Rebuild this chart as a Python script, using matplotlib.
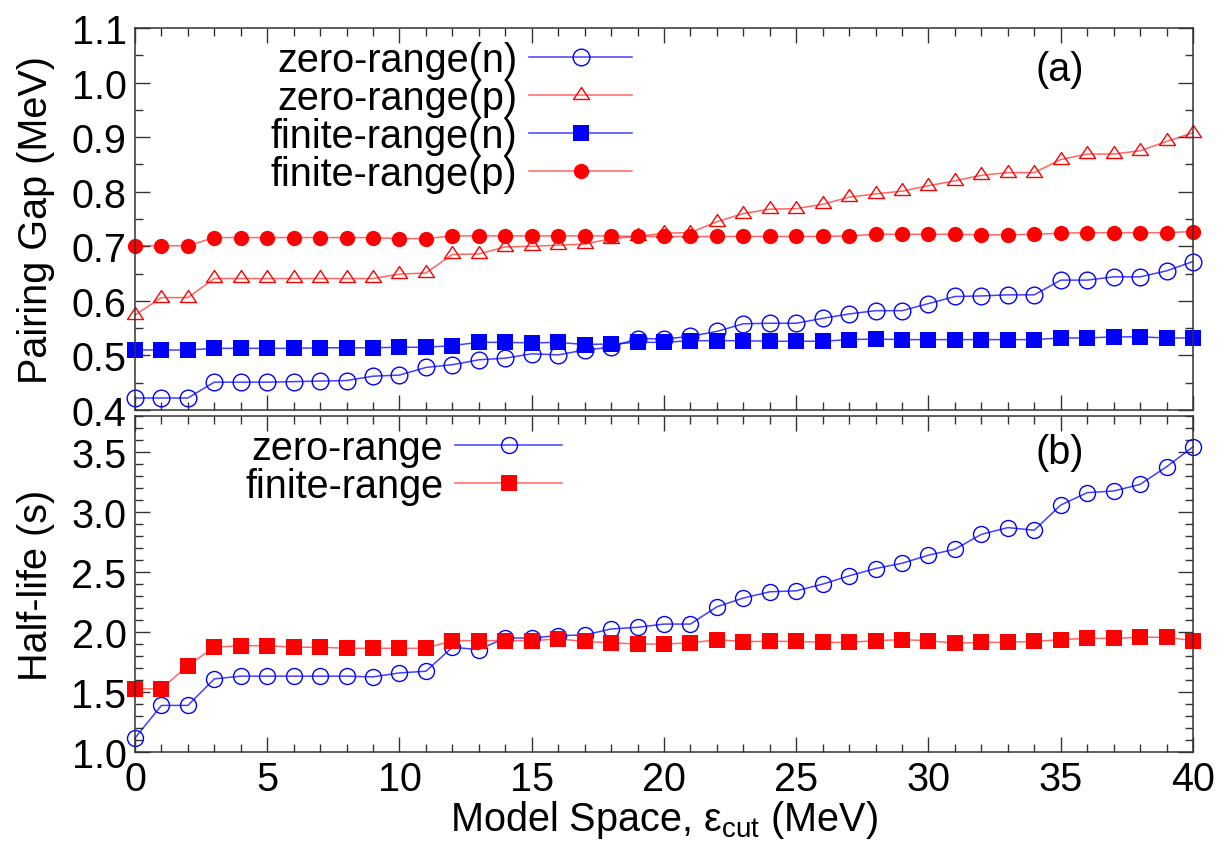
import numpy as np
import matplotlib
matplotlib.use("Agg")
import matplotlib.pyplot as plt
from matplotlib.ticker import MultipleLocator, FormatStrFormatter
from matplotlib.path import Path

plt.rcParams['font.family'] = ['Liberation Sans', 'DejaVu Sans']
plt.rcParams['mathtext.fontset'] = 'custom'
plt.rcParams['mathtext.rm'] = 'Liberation Sans'
plt.rcParams['mathtext.it'] = 'Liberation Sans:italic'

# Model-space cutoff (MeV)
e_cut = np.arange(41)

# (a) pairing gaps (MeV)
gap_zero_n = [0.422, 0.422, 0.422, 0.451, 0.451, 0.451, 0.452, 0.453, 0.454, 0.462,
              0.464, 0.478, 0.483, 0.492, 0.495, 0.503, 0.501, 0.510, 0.515, 0.531,
              0.530, 0.535, 0.544, 0.558, 0.559, 0.559, 0.568, 0.576, 0.582, 0.582,
              0.595, 0.608, 0.609, 0.611, 0.611, 0.638, 0.638, 0.644, 0.644, 0.655,
              0.672]
gap_zero_p = [0.574, 0.606, 0.606, 0.641, 0.641, 0.641, 0.641, 0.641, 0.641, 0.641,
              0.649, 0.651, 0.685, 0.686, 0.699, 0.700, 0.702, 0.704, 0.714, 0.718,
              0.724, 0.725, 0.745, 0.760, 0.768, 0.769, 0.777, 0.790, 0.796, 0.801,
              0.811, 0.820, 0.830, 0.835, 0.835, 0.859, 0.869, 0.869, 0.875, 0.892,
              0.908]
gap_fin_n = [0.510, 0.510, 0.510, 0.513, 0.513, 0.513, 0.513, 0.514, 0.514, 0.514,
             0.515, 0.515, 0.518, 0.524, 0.524, 0.523, 0.524, 0.520, 0.521, 0.524,
             0.524, 0.527, 0.527, 0.527, 0.526, 0.526, 0.526, 0.529, 0.530, 0.529,
             0.529, 0.529, 0.529, 0.529, 0.529, 0.532, 0.532, 0.534, 0.534, 0.532,
             0.532]
gap_fin_p = [0.701, 0.701, 0.701, 0.716, 0.716, 0.716, 0.716, 0.716, 0.716, 0.716,
             0.714, 0.714, 0.719, 0.719, 0.719, 0.719, 0.719, 0.719, 0.719, 0.718,
             0.718, 0.718, 0.718, 0.718, 0.718, 0.718, 0.718, 0.719, 0.722, 0.722,
             0.722, 0.722, 0.721, 0.721, 0.722, 0.724, 0.725, 0.725, 0.725, 0.725,
             0.727]

# (b) half-lives (s)
half_zero = [1.116, 1.388, 1.388, 1.609, 1.632, 1.632, 1.632, 1.632, 1.632, 1.626,
             1.659, 1.673, 1.873, 1.853, 1.950, 1.950, 1.970, 1.975, 2.025, 2.039,
             2.066, 2.066, 2.210, 2.283, 2.335, 2.343, 2.399, 2.468, 2.529, 2.573,
             2.640, 2.690, 2.814, 2.870, 2.848, 3.058, 3.161, 3.175, 3.230, 3.377,
             3.543]
half_fin = [1.526, 1.526, 1.720, 1.873, 1.886, 1.886, 1.873, 1.873, 1.864, 1.864,
            1.864, 1.864, 1.928, 1.928, 1.928, 1.928, 1.942, 1.922, 1.909, 1.900,
            1.900, 1.909, 1.936, 1.920, 1.922, 1.922, 1.914, 1.914, 1.928, 1.936,
            1.928, 1.906, 1.914, 1.914, 1.922, 1.936, 1.947, 1.947, 1.956, 1.956,
            1.928]

FS = 28.5
BLUE = (0, 0, 1)
RED = (1, 0, 0)
BLUE_LINE = (0, 0, 1, 0.75)
RED_LINE = (1, 0, 0, 0.6)
# closed open triangle with the data point at two thirds of its height
TRI = Path([(0, 0.5), (-0.5, -0.25), (0.5, -0.25), (0, 0.5)],
           [Path.MOVETO, Path.LINETO, Path.LINETO, Path.CLOSEPOLY])

fig = plt.figure(figsize=(12.29, 8.45), dpi=100)
ax1 = fig.add_axes([0.1098, 0.5136, 0.8609, 0.4521])
ax2 = fig.add_axes([0.1098, 0.1089, 0.8609, 0.3976])


def style_axes(ax, ymajor, yminor):
    ax.set_xlim(0, 40)
    ax.xaxis.set_major_locator(MultipleLocator(5))
    ax.xaxis.set_minor_locator(MultipleLocator(1))
    ax.yaxis.set_major_locator(MultipleLocator(ymajor))
    ax.yaxis.set_minor_locator(MultipleLocator(yminor))
    ax.yaxis.set_major_formatter(FormatStrFormatter('%.1f'))
    ax.tick_params(which='both', direction='in', top=True, right=True,
                   color='#333333', width=1.0)
    ax.tick_params(which='major', length=11, labelsize=FS, pad=6)
    ax.tick_params(which='minor', length=6)
    for sp in ax.spines.values():
        sp.set_color('#333333')
        sp.set_linewidth(1.1)


# (a)
ax1.plot(e_cut, gap_zero_n, color=BLUE_LINE, lw=1.1, marker='o', ms=12,
         mfc='none', mec=BLUE, mew=1.0, clip_on=False, label='zero-range(n)')
ax1.plot(e_cut, gap_zero_p, color=RED_LINE, lw=1.1, marker=TRI, ms=11.5,
         mfc='none', mec=RED, mew=1.0, clip_on=False, label='zero-range(p)')
ax1.plot(e_cut, gap_fin_n, color=BLUE_LINE, lw=1.1, marker='s', ms=12,
         mfc=BLUE, mec=BLUE, mew=0, clip_on=False, label='finite-range(n)')
ax1.plot(e_cut, gap_fin_p, color=RED_LINE, lw=1.1, marker='o', ms=11,
         mfc=RED, mec=RED, mew=0, clip_on=False, label='finite-range(p)')
style_axes(ax1, 0.1, 0.05)
ax1.set_ylim(0.4, 1.1)
ax1.tick_params(axis='x', labelbottom=False)
ax1.set_ylabel('Pairing Gap (MeV)', fontsize=FS, labelpad=12)
ax1.text(0.874, 0.893, '(a)', transform=ax1.transAxes, fontsize=FS,
         ha='center', va='center')
ax1.legend(loc='center right', bbox_to_anchor=(0.4698, 0.767), frameon=False,
           markerfirst=False, fontsize=FS, borderpad=0, borderaxespad=0,
           handlelength=2.6, handletextpad=0.3, labelspacing=0.0)

# (b)
ax2.plot(e_cut, half_zero, color=BLUE_LINE, lw=1.1, marker='o', ms=11.5,
         mfc='none', mec=BLUE, mew=1.0, clip_on=False, label='zero-range')
ax2.plot(e_cut, half_fin, color=RED_LINE, lw=1.1, marker='s', ms=12,
         mfc=RED, mec=RED, mew=0, clip_on=False, label='finite-range')
style_axes(ax2, 0.5, 0.1)
ax2.set_ylim(1.0, 3.8)
ax2.set_ylabel('Half-life (s)', fontsize=FS, labelpad=12)
ax2.set_xlabel('Model Space, ε$_{\\rm cut}$ (MeV)', fontsize=FS, labelpad=0)
ax2.text(0.874, 0.893, '(b)', transform=ax2.transAxes, fontsize=FS,
         ha='center', va='center')
ax2.legend(loc='center right', bbox_to_anchor=(0.4036, 0.8497), frameon=False,
           markerfirst=False, fontsize=FS, borderpad=0, borderaxespad=0,
           handlelength=2.7, handletextpad=0.3, labelspacing=0.0)

fig.savefig('out.png', dpi=100)
